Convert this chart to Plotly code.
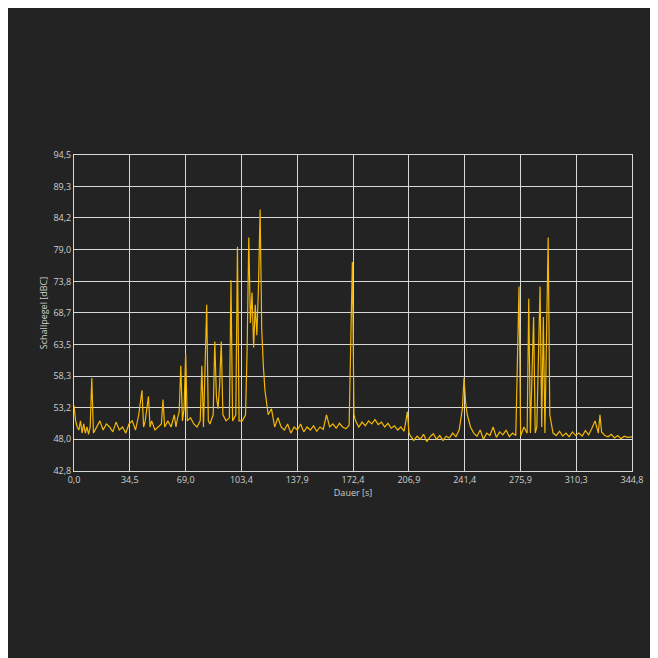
import plotly.graph_objects as go

# Dauer [s] and Schallpegel [dBC]
dauer = [0, 1, 2, 3, 4, 5, 6, 7, 8, 9, 10, 11, 12, 14, 16, 18, 20, 22, 24, 26, 28, 30, 32, 34, 36, 38,
         40, 42, 43, 44, 46, 47, 48, 50, 52, 54, 55, 56, 58, 60, 62, 63, 64, 65, 66, 67, 68, 69, 70, 72,
         74, 76, 78, 79, 80, 82, 83, 84, 86, 87, 88, 89, 90, 91, 92, 94, 96, 97, 98, 100, 101, 102, 104,
         106, 107, 108, 109, 110, 111, 112, 113, 114, 115, 116, 117, 118, 120, 122, 124, 126, 128, 130,
         132, 134, 136, 138, 140, 142, 144, 146, 148, 150, 152, 154, 156, 158, 160, 162, 164, 166, 168,
         170, 172, 173, 174, 176, 178, 180, 182, 184, 186, 188, 190, 192, 194, 196, 198, 200, 202, 204,
         206, 207, 208, 210, 212, 214, 216, 218, 220, 222, 224, 226, 228, 230, 232, 234, 236, 238, 240,
         241, 242, 243, 245, 247, 249, 251, 253, 255, 257, 259, 261, 263, 265, 267, 269, 271, 273, 275,
         276, 278, 280, 281, 282, 284, 285, 286, 288, 289, 290, 291, 293, 294, 296, 298, 300, 302, 304,
         306, 308, 310, 312, 314, 316, 318, 320, 322, 324, 325, 326, 328, 330, 332, 334, 336, 338, 340,
         342, 344.8]
pegel = [53.5, 51, 50, 49.5, 51, 49, 50.5, 49, 50, 48.8, 50, 58, 49, 50, 51, 49.5, 50.5, 50, 49.2, 50.8,
         49.5, 50, 49, 50.5, 51, 49.5, 52, 56, 50, 51, 55, 50, 51, 49.5, 50, 50.5, 54.5, 50, 51, 50, 52,
         50, 51.5, 52.5, 60, 51, 53, 62, 51, 51.5, 50.5, 50, 51, 60, 50, 70, 51, 50.5, 52, 64, 55, 53, 57,
         64, 52, 51, 51.5, 74, 51, 52, 79.5, 51, 51, 52, 63, 81, 67, 72, 63, 70, 65, 73, 85.6, 66, 60, 56,
         52, 53, 50, 51.5, 50, 49.5, 50.5, 49, 50, 49.5, 50.5, 49.2, 50, 49.5, 50.2, 49.3, 50, 49.6, 52,
         50, 50.5, 49.8, 50.6, 50, 49.7, 50.3, 77, 52, 51, 50, 50.8, 50.2, 51, 50.5, 51.2, 50.4, 50.8, 50,
         50.6, 49.8, 50.2, 49.5, 50, 49.3, 52.5, 49, 48.5, 47.8, 48.5, 48, 48.8, 47.6, 48.4, 48.9, 48, 48.6,
         47.8, 48.5, 48.2, 49, 48.4, 49.5, 53, 58, 54, 52, 50, 49, 48.5, 49.5, 48, 49, 48.6, 50, 48.3, 49.2,
         48.7, 49.5, 48.4, 49, 48.6, 73, 48.5, 50, 49, 71, 49, 68, 49, 50, 73, 50, 68, 49, 81, 52, 49, 48.6,
         49.3, 48.5, 49, 48.4, 49.2, 48.6, 49, 48.5, 49.4, 48.7, 49.8, 51, 49, 52, 49.2, 48.6, 48.4, 48.8,
         48.2, 48.6, 48.1, 48.5, 48.3, 48.4, 48]

yticks = [42.8, 48.0, 53.2, 58.3, 63.5, 68.7, 73.8, 79.0, 84.2, 89.3, 94.5]
xticks = [0.0, 34.5, 69.0, 103.4, 137.9, 172.4, 206.9, 241.4, 275.9, 310.3, 344.8]

fig = go.Figure(go.Scatter(x=dauer, y=pegel, mode='lines',
                           line=dict(color='#f2b707', width=1.2)))

grid = dict(showgrid=True, gridcolor='#d8d8d8', gridwidth=1, zeroline=False,
            showline=True, linecolor='#d8d8d8', mirror=True, ticks='',
            tickfont=dict(size=9, color='#cfcfcf'), title_font=dict(size=9, color='#cfcfcf'))

fig.update_xaxes(range=[0, 344.8], tickvals=xticks,
                 ticktext=[f'{v:.1f}'.replace('.', ',') for v in xticks],
                 title_text='Dauer [s]', title_standoff=4, **grid)
fig.update_yaxes(range=[42.8, 94.5], tickvals=yticks,
                 ticktext=[f'{v:.1f}'.replace('.', ',') for v in yticks],
                 title_text='Schallpegel [dBC]', title_standoff=4, **grid)

fig.update_layout(width=658, height=658, showlegend=False,
                  paper_bgcolor='#232323', plot_bgcolor='#232323',
                  font=dict(family='Open Sans'),
                  margin=dict(l=66, r=34, t=147, b=195))

fig.write_html("out.html")
